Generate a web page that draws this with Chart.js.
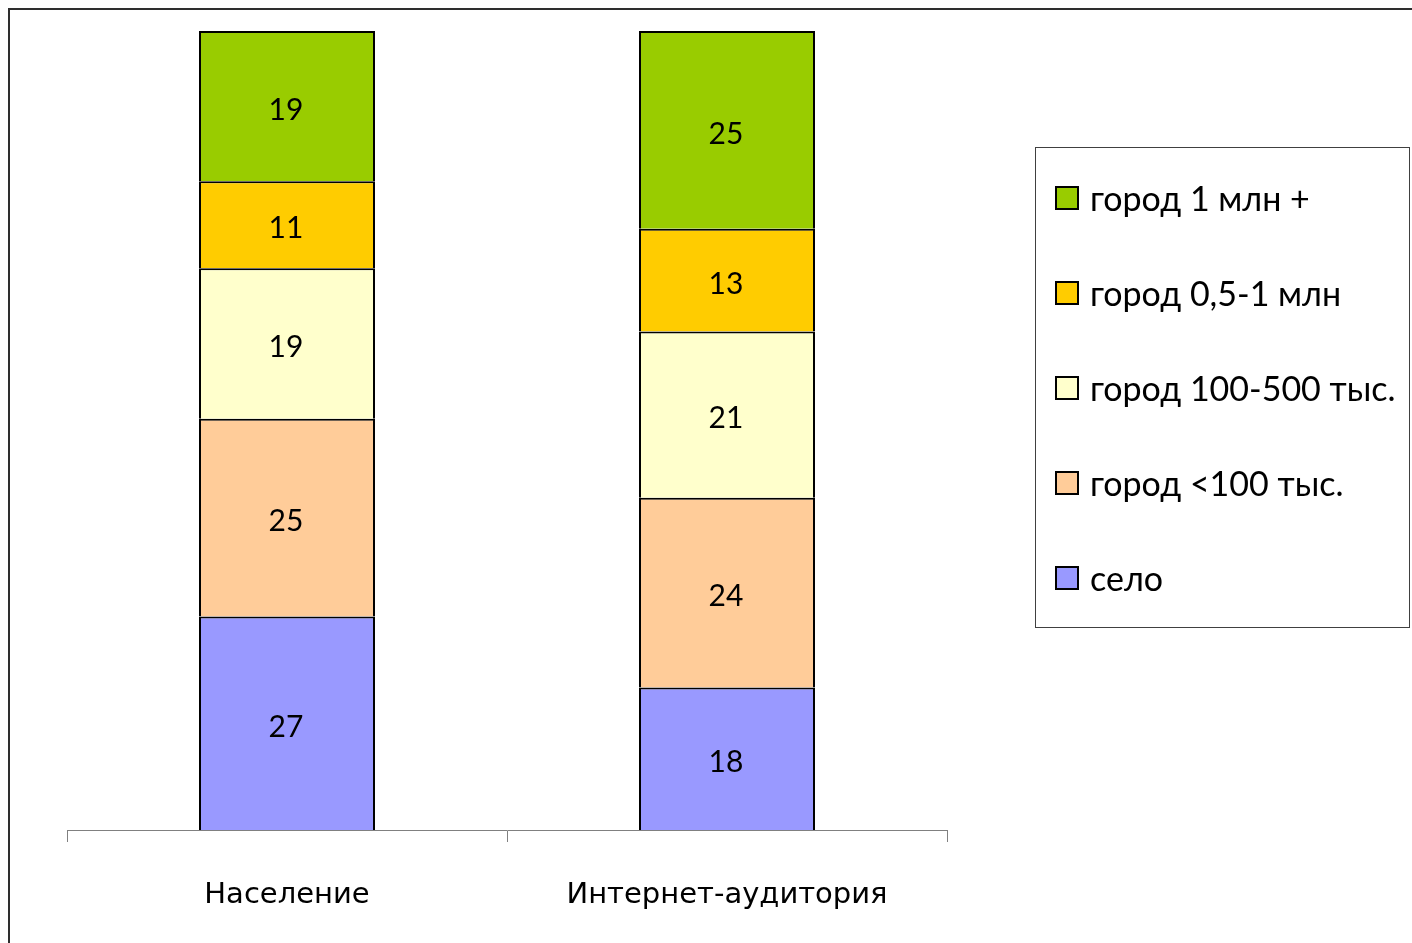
<!DOCTYPE html>
<html>
<head>
<meta charset="utf-8">
<script src="https://cdn.jsdelivr.net/npm/chart.js@4/dist/chart.umd.min.js"></script>
<style>
  html, body { margin: 0; padding: 0; background: #fff; }
  #wrap { width: 1412px; height: 943px; position: relative; }
</style>
</head>
<body>
<div id="wrap"><canvas id="chart"></canvas></div>
<script>
// данные (снизу вверх по стеку)
const categories = ['Население', 'Интернет-аудитория'];
const seriesNames = ['село', 'город <100 тыс.', 'город 100-500 тыс.', 'город 0,5-1 млн', 'город 1 млн +'];
const selo = [27, 18];
const gorodDo100 = [25, 24];
const gorod100_500 = [19, 21];
const gorod05_1 = [11, 13];
const gorod1mln = [19, 25];
const seriesColors = ['#9999FF', '#FFCC99', '#FFFFCC', '#FFCC00', '#99CC00'];

const seriesValues = [selo, gorodDo100, gorod100_500, gorod05_1, gorod1mln];
const totalMax = Math.max(...categories.map((_, i) => seriesValues.reduce((s, v) => s + v[i], 0)));

const FONT = 'Lato, "Open Sans", sans-serif';

// рамка слева и сверху
const framePlugin = {
    id: 'frame',
    beforeDraw(chart) {
        const ctx = chart.ctx;
        ctx.save();
        ctx.strokeStyle = '#2e2e2e';
        ctx.lineWidth = 2;
        ctx.beginPath();
        ctx.moveTo(9, 943);
        ctx.lineTo(9, 9);
        ctx.lineTo(1412, 9);
        ctx.stroke();
        ctx.restore();
    }
};

// подписи значений в центре сегментов
const valueLabels = {
    id: 'valueLabels',
    afterDatasetsDraw(chart) {
        const ctx = chart.ctx;
        ctx.save();
        ctx.font = '30px ' + FONT;
        ctx.fillStyle = '#000';
        ctx.textAlign = 'center';
        ctx.textBaseline = 'middle';
        chart.data.datasets.forEach((ds, di) => {
            chart.getDatasetMeta(di).data.forEach((bar, i) => {
                const p = bar.getProps(['x', 'y', 'base'], true);
                ctx.fillText(ds.data[i], p.x - 1, (p.y + p.base) / 2 + 4);
            });
        });
        ctx.restore();
    }
};

// легенда в рамке справа
const boxLegend = {
    id: 'boxLegend',
    afterDraw(chart) {
        const ctx = chart.ctx;
        const bx = 1035, by = 147, bw = 374, bh = 480;
        ctx.save();
        ctx.strokeStyle = '#404040';
        ctx.lineWidth = 1;
        ctx.strokeRect(bx + 0.5, by + 0.5, bw, bh);
        ctx.font = '34px ' + FONT;
        ctx.textBaseline = 'middle';
        ctx.textAlign = 'left';
        const ds = chart.data.datasets.slice().reverse();
        ds.forEach((d, k) => {
            const cy = 198 + k * 95;
            ctx.fillStyle = d.backgroundColor;
            ctx.fillRect(1056, cy - 11, 22, 22);
            ctx.strokeStyle = '#000';
            ctx.lineWidth = 2;
            ctx.strokeRect(1056, cy - 11, 22, 22);
            ctx.fillStyle = '#000';
            ctx.fillText(d.label, 1090, cy + 2);
        });
        ctx.restore();
    }
};

const ctx = document.getElementById('chart').getContext('2d');
new Chart(ctx, {
    type: 'bar',
    plugins: [framePlugin, valueLabels, boxLegend],
    data: {
        labels: categories,
        datasets: seriesNames.map((name, i) => ({
            label: name,
            data: seriesValues[i],
            backgroundColor: seriesColors[i],
            borderColor: '#000',
            borderWidth: 2,
            categoryPercentage: 1.0,
            barPercentage: 0.4
        }))
    },
    options: {
        responsive: true,
        maintainAspectRatio: false,
        animation: false,
        layout: { padding: { left: 67, right: 465, top: 31, bottom: 0 } },
        plugins: {
            legend: { display: false },
            tooltip: { enabled: false }
        },
        scales: {
            x: {
                stacked: true,
                afterFit: (s) => { s.height = 113; },
                border: { display: true, color: '#808080', width: 1 },
                grid: {
                    offset: true,
                    drawOnChartArea: false,
                    drawTicks: true,
                    tickLength: 12,
                    color: '#808080'
                },
                ticks: {
                    color: '#000',
                    padding: 36,
                    font: { family: '"DejaVu Sans", sans-serif', size: 29 }
                }
            },
            y: {
                stacked: true,
                display: false,
                min: 0,
                max: totalMax
            }
        }
    }
});
</script>
</body>
</html>
